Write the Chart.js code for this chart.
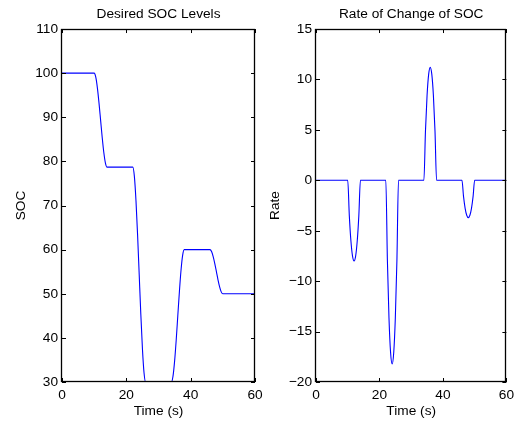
<!DOCTYPE html>
<html>
<head>
<meta charset="utf-8">
<script src="https://cdn.jsdelivr.net/npm/chart.js@4"></script>
<style>
  body { margin: 0; background: #fff; }
  .wrap { position: relative; width: 519px; height: 422px; }
  canvas { position: absolute; left: 0; top: 0; }
</style>
</head>
<body>
<div class="wrap">
  <canvas id="socChart" width="519" height="422"></canvas>
  <canvas id="rateChart" width="519" height="422"></canvas>
</div>
<script>
// values (time in s)
const times = [0, 10, 10.5, 11, 11.5, 12, 12.5, 13, 13.5, 14,
  22, 22.5, 23, 23.5, 24, 24.5, 25, 25.5, 26,
  34, 34.5, 35, 35.5, 36, 36.5, 37, 37.5, 38,
  46, 46.5, 47, 47.5, 48, 48.5, 49, 49.5, 50, 60];

const socLevels = [100, 100, 99.08, 96.68, 93.27, 89.35, 85.43, 82.02, 79.62, 78.7,
  78.7, 76.61, 71.1, 63.31, 54.35, 45.39, 37.6, 32.09, 30,
  30, 31.29, 34.68, 39.48, 45, 50.52, 55.32, 58.71, 60,
  60, 59.57, 58.44, 56.84, 55, 53.16, 51.56, 50.43, 50, 50];

const socRate = [0, 0, -3.5, -6, -7.5, -8, -7.5, -6, -3.5, 0,
  0, -7.96, -13.65, -17.06, -18.2, -17.06, -13.65, -7.96, 0,
  0, 4.9, 8.4, 10.5, 11.2, 10.5, 8.4, 4.9, 0,
  0, -1.62, -2.78, -3.47, -3.7, -3.47, -2.78, -1.62, 0, 0];

const FONT = 'Liberation Sans, Arial, Helvetica, sans-serif';
const FSIZE = 13.7;

// matlab style box with inward ticks
const boxTicks = {
  id: 'boxTicks',
  afterDraw(chart) {
    const { ctx, chartArea: a, scales: { x, y } } = chart;
    const len = 4;
    ctx.save();
    ctx.strokeStyle = '#000';
    ctx.lineWidth = 1;
    ctx.beginPath();
    x.ticks.forEach(t => {
      const px = Math.round(x.getPixelForValue(t.value)) + 0.5;
      ctx.moveTo(px, a.bottom); ctx.lineTo(px, a.bottom - len);
      ctx.moveTo(px, a.top); ctx.lineTo(px, a.top + len);
    });
    y.ticks.forEach(t => {
      const py = Math.round(y.getPixelForValue(t.value)) + 0.5;
      ctx.moveTo(a.left, py); ctx.lineTo(a.left + len, py);
      ctx.moveTo(a.right, py); ctx.lineTo(a.right - len, py);
    });
    ctx.stroke();
    ctx.lineWidth = 1.3;
    ctx.strokeRect(Math.round(a.left) - 0.5, Math.round(a.top) + 0.5,
      Math.round(a.right - a.left), Math.round(a.bottom - a.top) - 1);
    ctx.restore();
  }
};

function makeChart(id, title, yTitle, values, yMin, yMax, yStep, pad, yWidth, yTitlePad) {
  return new Chart(document.getElementById(id), {
    type: 'line',
    data: {
      datasets: [{
        data: times.map((t, i) => ({ x: t, y: values[i] })),
        borderColor: '#0000ff',
        borderWidth: 1.1,
        pointRadius: 0,
        fill: false,
        cubicInterpolationMode: 'monotone'
      }]
    },
    options: {
      responsive: false,
      animation: false,
      layout: { padding: { left: pad.left, right: pad.right, top: 0, bottom: 0 } },
      plugins: {
        legend: { display: false },
        tooltip: { enabled: false },
        title: {
          display: true,
          text: title,
          fullSize: false,
          color: '#000',
          font: { family: FONT, size: FSIZE, weight: 'normal', lineHeight: 1.2 },
          padding: { top: 6, bottom: 6.6 }
        }
      },
      scales: {
        x: {
          type: 'linear',
          min: 0,
          max: 60,
          afterFit: s => { s.height = 40; },
          grid: { display: false, drawTicks: false },
          border: { display: false },
          ticks: {
            stepSize: 20,
            padding: 5,
            color: '#000',
            font: { family: FONT, size: FSIZE }
          },
          title: {
            display: true,
            text: 'Time (s)',
            color: '#000',
            font: { family: FONT, size: FSIZE },
            padding: { bottom: 2.6 }
          }
        },
        y: {
          min: yMin,
          max: yMax,
          afterFit: s => { s.width = yWidth; },
          grid: { display: false, drawTicks: false },
          border: { display: false },
          ticks: {
            stepSize: yStep,
            padding: 4,
            color: '#000',
            font: { family: FONT, size: FSIZE },
            callback: v => String(v).replace('-', '\u2212')
          },
          title: {
            display: true,
            text: yTitle,
            color: '#000',
            font: { family: FONT, size: FSIZE },
            padding: { top: yTitlePad }
          }
        }
      }
    },
    plugins: [boxTicks]
  });
}

makeChart('socChart', 'Desired SOC Levels', 'SOC', socLevels, 30, 110, 10,
  { left: 0, right: 264 }, 62, 13);
makeChart('rateChart', 'Rate of Change of SOC', 'Rate', socRate, -20, 15, 5,
  { left: 260, right: 10 }, 56, 7);
</script>
</body>
</html>
